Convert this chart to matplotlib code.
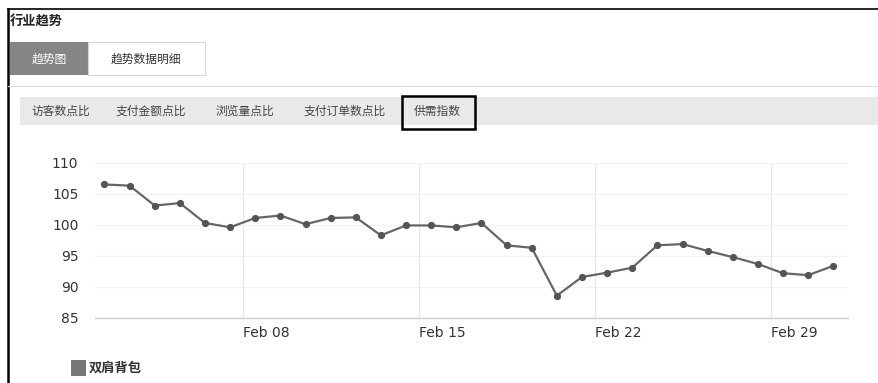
import pandas as pd
import matplotlib
matplotlib.use("Agg")
import matplotlib.pyplot as plt
import matplotlib.dates as mdates
from matplotlib.patches import Rectangle
from matplotlib.lines import Line2D

plt.rcParams['font.family'] = ['Noto Sans CJK SC', 'DejaVu Sans']

days = ["2016-02-02", "2016-02-03", "2016-02-04", "2016-02-05", "2016-02-06",
        "2016-02-07", "2016-02-08", "2016-02-09", "2016-02-10", "2016-02-11",
        "2016-02-12", "2016-02-13", "2016-02-14", "2016-02-15", "2016-02-16",
        "2016-02-17", "2016-02-18", "2016-02-19", "2016-02-20", "2016-02-21",
        "2016-02-22", "2016-02-23", "2016-02-24", "2016-02-25", "2016-02-26",
        "2016-02-27", "2016-02-28", "2016-02-29", "2016-03-01", "2016-03-02"]
supply_demand = [106.5, 106.3, 103.1, 103.5, 100.3, 99.6, 101.1, 101.5, 100.1, 101.1,
                 101.2, 98.3, 99.9, 99.9, 99.6, 100.3, 96.7, 96.3, 88.6, 91.6,
                 92.3, 93.1, 96.7, 96.9, 95.8, 94.8, 93.7, 92.2, 91.9, 93.4]
series_name = "双肩背包"
tick_days = ["2016-02-08", "2016-02-15", "2016-02-22", "2016-02-29"]
y_ticks = [85, 90, 95, 100, 105, 110]
main_tabs = ["趋势图", "趋势数据明细"]
sub_tabs = ["访客数点比", "支付金额点比", "浏览量点比", "支付订单数点比", "供需指数"]

W, H = 879, 383
fig = plt.figure(figsize=(W / 100, H / 100), dpi=100)
fig.patch.set_facecolor("white")


def fx(px):
    return px / W


def fy(py):
    return 1 - py / H


def box(x0, y0, x1, y1, **kw):
    fig.add_artist(Rectangle((fx(x0), fy(y1)), fx(x1) - fx(x0), fy(y0) - fy(y1),
                             transform=fig.transFigure, **kw))


# page frame
fig.add_artist(Line2D([fx(8), fx(8)], [fy(9), 0], transform=fig.transFigure,
                      color="black", lw=1.8))
fig.add_artist(Line2D([fx(8), 1], [fy(9), fy(9)], transform=fig.transFigure,
                      color="black", lw=1.2))
fig.text(fx(10), fy(22), "行业趋势", fontsize=9.5, fontweight="bold",
         color="#222222", va="center", ha="left")

# top tabs
box(10, 42, 88, 75, facecolor="#858585", edgecolor="none")
box(88, 42, 205, 75, facecolor="white", edgecolor="#d6d6d6", lw=0.8)
fig.text(fx(49), fy(59), main_tabs[0], fontsize=8.5, color="white", ha="center", va="center")
fig.text(fx(146), fy(59), main_tabs[1], fontsize=8.5, color="#333333", ha="center", va="center")
fig.add_artist(Line2D([fx(8), 1], [fy(86), fy(86)], transform=fig.transFigure,
                      color="#dddddd", lw=0.8))

# metric selector bar
box(20, 97, W, 125, facecolor="#e9e9e9", edgecolor="none")
sub_x = [61, 151, 245, 345, 437]
for lab, cx in zip(sub_tabs, sub_x):
    fig.text(fx(cx), fy(111), lab, fontsize=8.5, color="#444444", ha="center", va="center")
box(402, 96, 475, 129, facecolor="none", edgecolor="black", lw=1.8)

# chart
ax = fig.add_axes([fx(95), fy(318), fx(848) - fx(95), fy(162.7) - fy(318)])
x = pd.to_datetime(days) + pd.Timedelta(hours=12)
ax.plot(x, supply_demand, color="#666666", lw=1.6, marker="o", markersize=4.2,
        markerfacecolor="#555555", markeredgecolor="#555555", zorder=3)

ax.set_ylim(85, 110)
ax.set_yticks(y_ticks)
ax.set_xlim(pd.Timestamp("2016-02-02 03:00"), pd.Timestamp("2016-03-03 02:00"))
ticks = pd.to_datetime(tick_days)
ax.set_xticks(ticks)
ax.xaxis.set_major_formatter(mdates.DateFormatter("%b %d"))

ax.grid(axis="y", color="#f1f1f1", lw=0.8)
ax.grid(axis="x", color="#e6e6e6", lw=0.8)
for s in ["top", "right", "left"]:
    ax.spines[s].set_visible(False)
ax.spines["bottom"].set_color("#cccccc")
ax.spines["bottom"].set_linewidth(1.0)
ax.tick_params(axis="both", length=0, colors="#333333", labelsize=10)
ax.tick_params(axis="y", pad=12)
ax.tick_params(axis="x", pad=6)
for t in ax.get_xticklabels():
    t.set_ha("left")
    t.set_family("DejaVu Sans")
for t in ax.get_yticklabels():
    t.set_family("DejaVu Sans")

# legend
box(71, 360, 86, 376, facecolor="#777777", edgecolor="none")
fig.text(fx(89), fy(368), series_name, fontsize=9.5, fontweight="bold",
         color="#333333", ha="left", va="center")

fig.savefig("out.png", dpi=100, facecolor="white")
